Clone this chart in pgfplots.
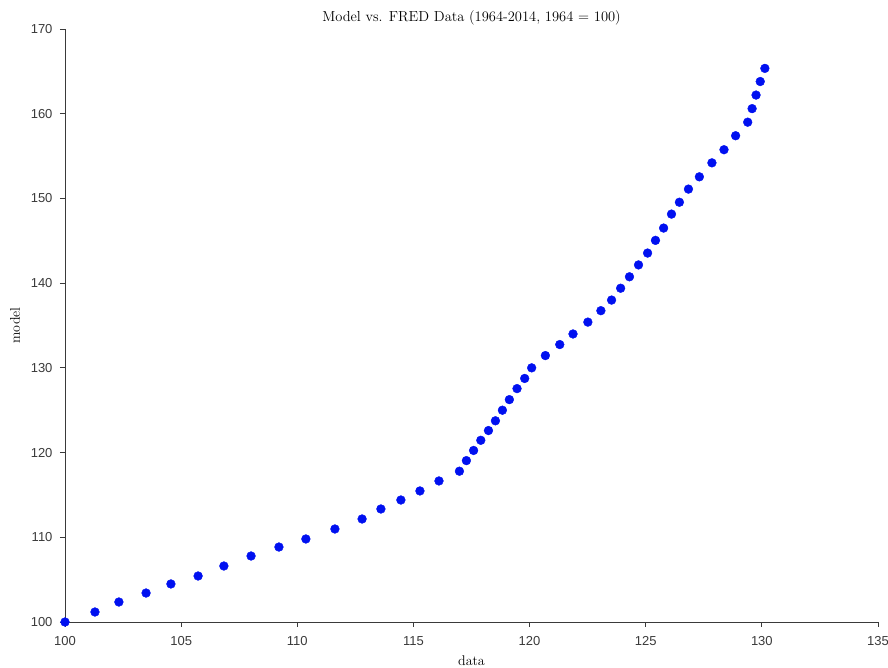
\documentclass[border=0pt]{standalone}
\usepackage{pgfplots}
\pgfplotsset{compat=1.18}
\usepackage{fontspec}
\newfontfamily\ticksf{Liberation Sans}
\definecolor{axgray}{HTML}{3A3A3A}
\definecolor{dotblue}{HTML}{0010F0}
\begin{document}
\begin{tikzpicture}
\begin{axis}[
  scale only axis,
  width=813pt, height=593pt,
  xmin=100, xmax=135, ymin=100, ymax=170,
  xtick={100,105,...,135}, ytick={100,110,...,170},
  axis x line*=bottom, axis y line*=left,
  axis line style={axgray, line width=0.8pt, -},
  tick style={axgray, line width=0.8pt},
  tick align=outside, major tick length=5pt,
  /pgf/number format/assume math mode=true,
  tick label style={font=\ticksf\fontsize{13}{13}\selectfont, text=axgray},
  xticklabel style={yshift=-6pt},
  yticklabel style={xshift=-4pt},
  title={Model vs. FRED Data (1964-2014, 1964 = 100)},
  title style={font=\fontsize{14.5}{16}\selectfont, yshift=-6pt},
  xlabel={data}, ylabel={model},
  label style={font=\fontsize{14}{16}\selectfont},
  xlabel style={yshift=-3pt},
  ylabel style={yshift=4pt},
  clip=false,
]
\addplot[only marks, mark=*, mark size=4.4pt, mark options={fill=dotblue, draw=dotblue}] coordinates {
(100,100) (101.29,101.18) (102.32,102.36) (103.49,103.42) (104.56,104.49)
(105.73,105.43) (106.84,106.61) (108.01,107.79) (109.21,108.85) (110.37,109.80)
(111.62,110.98) (112.79,112.16) (113.60,113.34) (114.46,114.40) (115.28,115.47)
(116.10,116.65) (116.98,117.80) (117.28,119.05) (117.59,120.25) (117.90,121.45)
(118.23,122.60) (118.53,123.75) (118.83,125.00) (119.13,126.25) (119.46,127.55)
(119.79,128.75) (120.09,130.00) (120.68,131.45) (121.30,132.75) (121.87,134.00)
(122.51,135.40) (123.07,136.75) (123.53,138.00) (123.92,139.40) (124.30,140.75)
(124.69,142.15) (125.08,143.55) (125.42,145.05) (125.77,146.50) (126.11,148.15)
(126.45,149.55) (126.84,151.10) (127.31,152.55) (127.85,154.20) (128.37,155.75)
(128.87,157.40) (129.39,159.00) (129.58,160.60) (129.75,162.20) (129.93,163.80)
(130.13,165.35)
};
\end{axis}
\pgfresetboundingbox
\path (current axis.south west) ++(-65pt,-46pt) coordinate (bbsw);
\path (current axis.north east) ++(10pt,29pt) coordinate (bbne);
\useasboundingbox (bbsw) rectangle (bbne);
\end{tikzpicture}
\end{document}
